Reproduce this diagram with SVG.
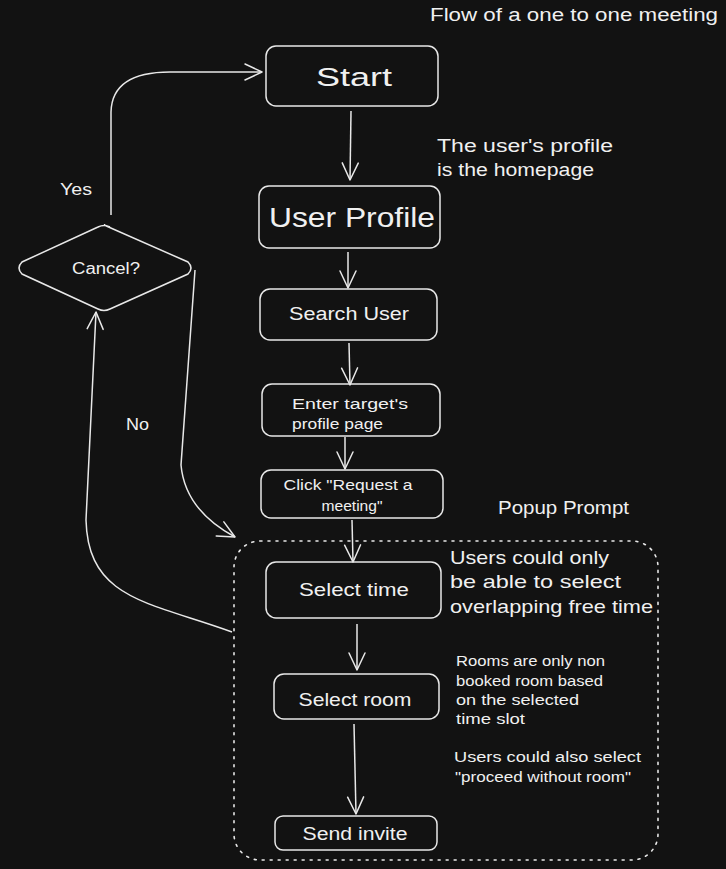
<svg xmlns="http://www.w3.org/2000/svg" width="726" height="869" viewBox="0 0 726 869">
  <defs>
    <style>
      .box { fill: none; stroke: #e8e8e8; stroke-width: 1.5; }
      .wire { fill: none; stroke: #e8e8e8; stroke-width: 1.5; }
      .t { fill: #f0f0f0; font-family: "Liberation Sans", "DejaVu Sans", sans-serif; }
      .c { text-anchor: middle; dominant-baseline: central; }
      .popup { fill: none; stroke: #e8e8e8; stroke-width: 1.6; stroke-dasharray: 2 6; stroke-linecap: round; }
    </style>
    <marker id="open" viewBox="-20 -12 24 24" refX="0" refY="0" markerWidth="24" markerHeight="24" markerUnits="userSpaceOnUse" orient="auto">
      <path d="M-17 -8 L0 0 L-17 8" fill="none" stroke="#e8e8e8" stroke-width="1.5" stroke-linecap="round" stroke-linejoin="round"/>
    </marker>
  </defs>

  <rect width="726" height="869" fill="#121212"/>

  <!-- popup area -->
  <g id="popup">
    <rect class="popup" x="234" y="541" width="424" height="319" rx="26"/>
    <text class="t" x="498" y="514" font-size="18" textLength="131" lengthAdjust="spacingAndGlyphs">Popup Prompt</text>
  </g>

  <!-- connectors -->
  <g id="connectors">
    <path class="wire" d="M351 111 L350 180" marker-end="url(#open)"/>
    <path class="wire" d="M348 252 L348 288" marker-end="url(#open)"/>
    <path class="wire" d="M349 343 L350 385" marker-end="url(#open)"/>
    <path class="wire" d="M345 437 L345 469" marker-end="url(#open)"/>
    <path class="wire" d="M352 520 L353 562" marker-end="url(#open)"/>
    <path class="wire" d="M357 624 L357 670" marker-end="url(#open)"/>
    <path class="wire" d="M354 724 L356 814" marker-end="url(#open)"/>
    <!-- Yes: back to Start -->
    <path class="wire" d="M111 215 L111 112 Q112 72 170 72 L262 72" marker-end="url(#open)"/>
    <!-- No: into popup -->
    <path class="wire" d="M195 270 L181 465 Q185 510 235 537" marker-end="url(#open)"/>
    <!-- popup back to Cancel? -->
    <path class="wire" d="M232 632 C150 602 88 600 86 520 L96 312" marker-end="url(#open)"/>
    <text class="t" x="60" y="195" font-size="16" textLength="32" lengthAdjust="spacingAndGlyphs">Yes</text>
    <text class="t" x="126" y="430" font-size="16" textLength="23" lengthAdjust="spacingAndGlyphs">No</text>
  </g>

  <g id="title">
    <text class="t" x="430" y="21" font-size="18" textLength="288" lengthAdjust="spacingAndGlyphs">Flow of a one to one meeting</text>
  </g>

  <g id="start">
    <rect class="box" x="266" y="46" width="172" height="60" rx="10"/>
    <text class="t c" x="354" y="77" font-size="26" textLength="76" lengthAdjust="spacingAndGlyphs">Start</text>
  </g>

  <g id="note-home">
    <text class="t" x="437" y="152" font-size="18" textLength="176" lengthAdjust="spacingAndGlyphs">The user's profile</text>
    <text class="t" x="437" y="176" font-size="18" textLength="157" lengthAdjust="spacingAndGlyphs">is the homepage</text>
  </g>

  <g id="user-profile">
    <rect class="box" x="259" y="186" width="181" height="62" rx="10"/>
    <text class="t c" x="352" y="217" font-size="28" textLength="166" lengthAdjust="spacingAndGlyphs">User Profile</text>
  </g>

  <g id="search-user">
    <rect class="box" x="260" y="289" width="177" height="51" rx="10"/>
    <text class="t c" x="349" y="314" font-size="18" textLength="120" lengthAdjust="spacingAndGlyphs">Search User</text>
  </g>

  <g id="enter-profile">
    <rect class="box" x="262" y="384" width="178" height="52" rx="10"/>
    <text class="t" x="292" y="409" font-size="14" textLength="116" lengthAdjust="spacingAndGlyphs">Enter target's</text>
    <text class="t" x="292" y="429" font-size="14" textLength="91" lengthAdjust="spacingAndGlyphs">profile page</text>
  </g>

  <g id="request-meeting">
    <rect class="box" x="261" y="470" width="182" height="48" rx="10"/>
    <text class="t c" x="348" y="485" font-size="14" textLength="129" lengthAdjust="spacingAndGlyphs">Click "Request a</text>
    <text class="t c" x="352" y="506" font-size="14" textLength="61" lengthAdjust="spacingAndGlyphs">meeting"</text>
  </g>

  <g id="select-time">
    <rect class="box" x="266" y="562" width="175" height="56" rx="10"/>
    <text class="t c" x="354" y="590" font-size="18" textLength="110" lengthAdjust="spacingAndGlyphs">Select time</text>
  </g>

  <g id="note-time">
    <text class="t" x="450" y="564" font-size="19" textLength="159" lengthAdjust="spacingAndGlyphs">Users could only</text>
    <text class="t" x="450" y="588" font-size="19" textLength="171" lengthAdjust="spacingAndGlyphs">be able to select</text>
    <text class="t" x="450" y="613" font-size="19" textLength="203" lengthAdjust="spacingAndGlyphs">overlapping free time</text>
  </g>

  <g id="select-room">
    <rect class="box" x="274" y="674" width="165" height="45" rx="10"/>
    <text class="t c" x="355" y="700" font-size="18" textLength="113" lengthAdjust="spacingAndGlyphs">Select room</text>
  </g>

  <g id="note-room">
    <text class="t" x="456" y="666" font-size="14" textLength="149" lengthAdjust="spacingAndGlyphs">Rooms are only non</text>
    <text class="t" x="456" y="686" font-size="14" textLength="147" lengthAdjust="spacingAndGlyphs">booked room based</text>
    <text class="t" x="456" y="705" font-size="14" textLength="123" lengthAdjust="spacingAndGlyphs">on the selected</text>
    <text class="t" x="456" y="724" font-size="14" textLength="69" lengthAdjust="spacingAndGlyphs">time slot</text>
    <text class="t" x="454" y="762" font-size="14" textLength="187" lengthAdjust="spacingAndGlyphs">Users could also select</text>
    <text class="t" x="455" y="782" font-size="14" textLength="176" lengthAdjust="spacingAndGlyphs">"proceed without room"</text>
  </g>

  <g id="send-invite">
    <rect class="box" x="275" y="816" width="162" height="34" rx="8"/>
    <text class="t c" x="355" y="834" font-size="18" textLength="105" lengthAdjust="spacingAndGlyphs">Send invite</text>
  </g>

  <g id="cancel">
    <path class="box" d="M104 225 L188 262 Q194 268 188 274 L110 309 Q104 312 98 309 L22 274 Q16 268 22 262 L98 227 Q104 224 110 227 Z"/>
    <text class="t c" x="106" y="268" font-size="16" textLength="68" lengthAdjust="spacingAndGlyphs">Cancel?</text>
  </g>
</svg>
